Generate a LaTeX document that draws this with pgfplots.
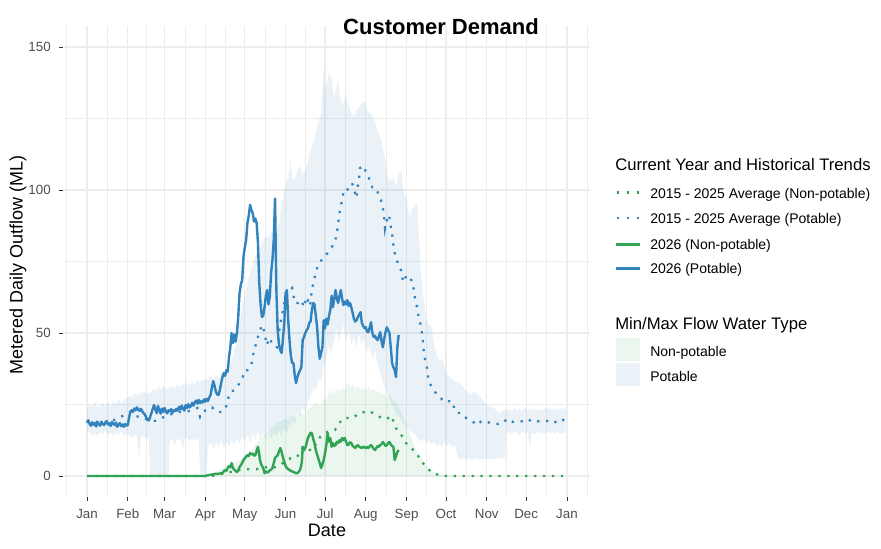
\documentclass[border=0pt]{standalone}
\usepackage{pgfplots}
\pgfplotsset{compat=1.18}
\usepackage{pgfplotstable}
\usepgfplotslibrary{fillbetween}
\usepackage{fontspec}
\setmainfont{Liberation Sans}
\definecolor{cblue}{HTML}{3182BD}
\definecolor{cgreen}{HTML}{31A354}
\definecolor{gridc}{HTML}{EDEDED}
\definecolor{tickc}{HTML}{4D4D4D}
\definecolor{tickm}{HTML}{333333}

\pgfplotstableread{
d v
0 18.6
1 19.5
2 18.2
3 17.6
4 18.8
5 17.9
6 18.5
7 17.3
8 18.9
9 18.1
10 17.6
11 19.0
12 18.2
13 17.8
14 18.6
15 19.2
16 18.0
17 18.4
18 17.5
19 18.9
20 18.3
21 17.8
22 18.7
23 17.2
24 17.9
25 18.5
26 17.4
27 18.0
28 17.2
29 18.2
30 17.6
31 17.8
32 20.5
33 22.5
34 23.0
35 22.4
36 23.6
37 23.0
38 24.0
39 23.2
40 22.8
41 23.5
42 22.6
43 22.0
44 21.5
45 20.5
46 19.8
47 19.4
48 20.6
49 22.0
50 23.5
51 24.8
52 23.2
53 22.0
54 24.5
55 23.0
56 21.8
57 23.6
58 22.4
59 23.8
60 22.5
61 21.9
62 23.0
63 22.6
64 23.4
65 22.1
66 23.0
67 22.7
68 23.5
69 22.8
70 24.2
71 23.3
72 24.6
73 23.5
74 22.9
75 24.8
76 23.7
77 25.1
78 24.0
79 24.5
80 25.6
81 24.6
82 25.8
83 26.4
84 25.3
85 26.6
86 25.5
87 26.2
88 25.7
89 26.8
90 26.0
91 27.0
92 26.2
93 27.5
94 28.4
95 31.0
96 33.2
97 31.5
98 29.5
99 28.5
100 28.3
101 30.0
102 32.5
103 34.5
104 36.0
105 35.0
106 37.0
107 36.5
108 41.6
109 45.0
110 50.0
111 46.5
112 49.5
113 47.0
114 50.0
115 55.6
116 64.0
117 67.0
118 68.5
119 76.6
120 80.0
121 82.5
122 88.5
123 91.0
124 94.8
125 93.0
126 92.0
127 89.0
128 90.0
129 88.5
130 81.5
131 67.5
132 60.0
133 55.6
134 56.0
135 59.0
136 63.0
137 65.0
138 60.0
139 62.6
140 71.0
141 75.5
142 82.5
143 97.0
144 65.0
145 51.0
146 46.0
147 44.0
148 43.0
149 48.0
150 53.5
151 64.0
152 65.0
153 54.5
154 47.5
155 42.0
156 39.5
157 39.5
158 35.0
159 32.5
160 34.6
161 36.0
162 37.0
163 38.0
164 47.5
165 48.6
166 50.0
167 51.0
168 51.6
169 53.5
170 54.0
171 58.0
172 60.5
173 60.0
174 56.0
175 52.0
176 45.0
177 41.0
178 43.0
179 45.0
180 54.5
181 51.6
182 55.0
183 53.0
184 56.0
185 58.0
186 63.0
187 59.0
188 62.0
189 65.0
190 62.0
191 60.5
192 63.0
193 65.0
194 62.0
195 59.8
196 61.0
197 60.0
198 61.5
199 59.5
200 60.5
201 59.0
202 57.0
203 55.0
204 54.0
205 54.5
206 55.6
207 56.5
208 57.3
209 53.5
210 52.5
211 51.7
212 52.0
213 50.5
214 50.3
215 52.0
216 53.8
217 50.0
218 48.6
219 49.0
220 48.0
221 47.5
222 49.0
223 50.3
224 47.0
225 45.0
226 48.0
227 50.3
228 52.0
229 51.0
230 50.0
231 45.0
232 39.5
233 38.0
234 37.0
235 34.6
236 45.0
237 49.3
}\bluecur

\pgfplotstableread{
d v
0 0
90 0
92 0.3
95 0.5
97 0.7
100 0.8
103 1.0
104 1.6
105 2.1
106 1.8
107 2.8
108 3.5
109 3.0
110 4.5
111 2.8
112 2.2
113 1.8
114 1.4
115 2.0
116 3.1
117 3.8
118 4.6
119 5.6
120 6.2
121 6.8
122 7.3
123 7.0
124 8.0
125 7.6
126 7.8
127 7.1
128 7.3
129 8.8
130 10.2
131 7.5
131.5 5.6
132.5 4.0
134 2.8
135 1.0
136 1.6
137 1.2
138 1.4
139 2.0
140 2.2
141 2.8
142 4.5
143 6.3
144 6.8
145 7.3
146 8.5
147 9.8
148 8.4
149 6.5
150 4.9
151 3.5
152 2.8
153 2.4
154 2.1
155 1.8
156 1.6
157 1.4
158 1.2
159 1.0
160 1.0
161 1.5
162 2.1
163 3.8
163.5 5.6
164 10.2
165 9.0
166 9.8
167 11.5
168 13.3
169 14.2
170 15.1
171 15.0
172 13.0
173 11.5
174 9.0
175 7.5
176 6.0
177 4.5
178 2.8
179 4.0
180 5.6
181 8.0
182 10.8
183 15.0
184 12.0
185 13.3
186 10.2
187 11.5
188 10.5
189 10.8
190 12.0
191 11.5
192 12.5
193 12.0
194 13.3
195 12.5
196 13.3
197 12.0
198 10.8
199 11.0
200 11.8
201 11.5
202 10.5
203 10.2
204 9.8
205 10.5
206 10.8
207 10.2
208 10.0
209 9.8
210 10.3
211 10.0
212 9.7
213 10.2
214 9.8
215 10.4
216 10.8
217 10.2
218 9.5
219 9.1
220 9.8
221 10.5
222 10.2
223 10.8
224 11.2
225 11.9
226 11.2
227 10.5
228 10.8
229 11.5
230 11.9
231 11.0
232 10.5
233 10.2
234 5.6
235 7.0
236 8.4
237 9.1
}\greencur

\pgfplotstableread{
d v
0 19.0
5 18.6
10 19.2
15 18.8
20 19.5
25 20.6
30 21.5
33 22.4
37 21.0
42 20.3
47 19.6
52 19.3
56 20.0
61 21.3
66 21.8
70 22.4
75 22.4
80 23.0
84 23.8
86 20.6
90 23.0
95 24.0
99 22.4
103 22.4
106 24.5
107 26.6
109 29.4
112 30.0
114 31.0
118 34.0
120 37.0
122 37.0
125 38.8
126 41.6
127.5 44.6
130 48.6
133 52.8
135 50.3
136.5 45.8
139 48.3
141 45.8
144.5 45.0
146.8 52.8
149 58.0
150.5 61.5
152 64.0
156 65.7
158 60.5
160.5 60.5
163 61.5
165 59.0
167 62.6
169.6 59.4
171 65.0
172.6 68.5
175.6 73.8
179.5 76.2
183 78.0
186 80.0
188.6 81.8
190 85.0
191 87.8
191.5 90.6
192.4 93.0
194 96.5
195 99.3
197 99.0
199 101.0
201.5 102.4
203 100.7
204.6 97.2
205.3 99.0
206 101.7
207 104.5
207.6 107.7
210.6 108.4
212 106.3
214.4 104.2
217 101.0
219 101.0
221.3 99.0
223.5 96.5
225 93.7
226 90.6
226.6 86.7
227.4 88.8
229.7 91.3
230.4 88.5
232 85.0
232.7 81.8
233.5 79.0
235 75.9
238 73.0
239.5 71.0
240.3 67.8
243 70.0
245 70.0
247 68.2
248.6 65.0
249.4 62.2
251 59.0
252 56.0
253.8 52.8
254.7 50.0
255.5 46.9
256 44.0
257 40.9
258.6 37.8
259.3 35.0
260.8 32.2
264.6 29.4
267 28.3
269 27.3
271.5 25.9
275.5 26.2
278 26.0
279.5 23.0
281.7 22.0
283.9 22.0
287 20.6
290 19.9
293.7 18.9
296.8 17.8
299.8 19.2
304.4 18.9
306.7 18.5
312.8 18.2
316.6 18.5
318.9 19.9
324 18.9
327 18.9
332.3 19.2
335 19.9
339 18.9
344.5 19.2
349.8 19.2
353.6 19.6
357.4 18.5
362 19.6
364 19.3
}\blueavg

\pgfplotstableread{
d v
0 0
95 0
100 0.5
105 1.0
110 1.5
115 2.0
122.4 2.4
129 2.4
135 3.1
141.3 2.8
146.8 3.8
152 5.6
156.7 6.6
159.7 6.6
164.3 10.2
171 8.8
177.2 13.6
181 15.0
184.8 15.8
188.6 16.1
194 19.9
197.7 20.3
202.3 20.3
206.8 22.0
211.4 22.4
214.4 22.7
217.5 22.0
221.3 21.0
225 20.0
228 20.0
231.9 21.0
233.5 18.2
235.7 16.1
238 15.0
239.5 14.0
242.6 11.5
247 9.6
251 7.7
254 5.2
257 3.8
261.6 1.4
267.7 0.3
273.8 0
364 0
}\greenavg

\pgfplotstableread{
d lo hi
0 14.5 23.5
2 15.5 25.0
4 14.0 24.0
6 15.0 26.0
8 14.2 23.8
10 15.3 24.6
12 14.6 25.5
14 15.8 24.2
16 14.4 25.8
18 15.0 24.5
20 14.1 26.2
22 15.2 25.0
24 14.5 26.8
26 15.6 25.4
28 14.0 26.5
30 15.0 27.0
32 14.4 28.0
34 13.2 27.5
36 14.6 29.0
38 13.5 28.0
40 6.0 29.5
41 13.8 28.6
43 14.2 30.0
45 12.8 28.5
47 13.5 29.2
48 0 29.0
50 0 30.5
52 0 29.6
54 0 31.0
56 0 30.0
58 0 31.5
60 0 30.2
62 0 31.0
63 13.0 30.5
65 12.5 31.6
67 11.0 30.8
69 13.2 32.0
71 12.6 31.2
73 9.5 32.4
74 12.8 31.5
76 13.4 32.6
78 12.0 31.8
80 13.2 33.0
82 12.5 32.0
84 13.0 33.5
85 12.5 32.8
86 0 33.0
88 0 34.0
90 0 33.2
91 0 34.5
92 10.5 33.5
94 12.0 35.0
96 9.5 34.0
98 11.5 35.5
100 10.0 34.2
102 12.5 36.0
104 9.8 35.5
106 11.8 37.0
108 10.5 38.0
110 12.6 40.0
112 11.0 44.0
114 13.0 48.0
116 11.5 54.0
118 13.5 60.0
120 12.0 63.0
122 14.5 68.0
124 11.5 71.0
126 15.0 75.0
128 12.5 77.0
130 16.0 79.0
132 13.0 80.0
134 15.5 82.0
136 12.5 84.0
138 16.0 83.0
140 13.0 85.5
142 15.5 86.0
144 13.5 87.0
146 16.0 88.0
148 14.0 95.0
150 17.0 100.0
152 15.0 103.0
154 18.5 108.0
155 17.0 112.0
156 20.0 104.0
158 18.0 103.5
160 22.0 107.0
162 20.5 108.5
164 24.0 105.5
166 22.0 107.0
168 26.0 110.0
170 28.0 114.0
172 31.0 116.0
174 30.0 120.0
176 34.0 124.0
178 33.0 127.0
180 38.0 143.0
181 40.0 135.0
182 42.0 137.0
184 45.0 141.0
186 43.0 139.0
188 48.0 132.0
190 52.0 137.0
191 46.0 138.0
193 50.0 131.0
195 53.0 130.0
197 47.0 134.0
199 51.0 129.0
201 46.0 127.0
203 49.0 125.5
205 45.0 128.0
207 50.0 129.0
209 46.0 130.5
211 48.0 131.0
213 43.0 128.0
215 46.0 127.0
217 41.0 126.0
219 44.0 124.0
221 39.0 121.0
223 36.0 118.5
225 33.0 115.0
227 30.0 110.0
229 28.0 104.0
231 26.0 103.5
233 24.0 104.5
235 22.0 101.0
237 21.0 105.5
239 19.5 107.0
241 18.0 99.0
243 17.0 97.0
245 16.0 90.5
247 15.5 93.0
249 14.5 94.5
251 13.5 95.5
253 12.5 80.0
254 12.0 70.0
256 13.0 62.0
258 11.5 55.0
260 12.5 53.0
262 11.0 52.0
264 12.0 46.0
266 10.5 42.0
268 11.5 40.5
270 10.0 41.0
272 12.0 38.0
274 10.5 35.0
276 11.5 34.5
278 10.0 33.8
280 11.0 33.0
282 6.0 32.5
284 5.8 32.0
286 6.2 31.0
288 5.6 30.0
290 6.4 29.0
292 5.8 28.5
294 6.0 29.5
296 6.5 29.0
298 5.7 28.0
300 6.1 27.0
302 5.9 26.0
304 6.3 25.0
306 5.8 24.5
308 6.0 24.0
310 6.2 23.5
312 5.9 22.5
314 6.4 22.0
316 6.0 23.0
318 6.3 23.5
319 15.0 22.8
321 15.5 23.5
323 14.5 22.5
325 15.8 23.8
327 15.0 22.6
329 14.2 23.4
331 15.6 22.8
333 14.8 24.0
335 15.4 23.0
337 9.8 23.6
338 15.0 22.7
340 14.6 23.8
342 15.5 22.9
344 14.8 23.5
346 15.2 22.6
348 14.5 24.0
350 15.6 23.2
352 14.9 23.7
354 15.3 22.8
356 14.6 23.5
358 15.5 23.0
360 14.8 23.8
362 15.2 23.2
364 15.0 24.0
}\potband

\pgfplotstableread{
d lo hi
0 0 0
88 0 0
92 0 0.5
96 0 1.2
100 0 2.0
104 0 3.0
108 0 3.8
112 0 4.5
116 0 5.5
120 0 6.5
123 0 8.0
126 0 9.5
129 0 11.5
132 0 13.0
135 0 14.5
138 0 15.5
141 0 17.0
144 0 18.5
147 0 19.0
150 0 20.0
153 0 19.5
156 0 21.0
159 0 20.0
162 0 22.0
165 0 21.5
168 0 23.5
171 0 24.0
174 0 25.5
177 0 24.5
180 0 27.0
182 0 26.5
184 0 29.0
186 0 30.0
188 0 28.5
190 0 30.5
192 0 29.5
194 0 31.0
196 0 30.0
198 0 32.5
200 0 31.5
202 0 32.0
204 0 30.5
206 0 31.5
208 0 30.0
210 0 31.0
212 0 29.5
214 0 31.5
216 0 30.0
218 0 30.5
220 0 29.0
222 0 30.0
224 0 28.5
226 0 29.0
228 0 27.5
230 0 28.0
232 0 27.0
234 0 26.5
236 0 25.0
238 0 23.0
240 0 21.0
242 0 19.0
244 0 16.5
246 0 14.0
248 0 11.5
250 0 9.5
252 0 8.0
254 0 6.5
256 0 5.0
258 0 3.5
261 0 2.5
264 0 1.5
268 0 0.8
272 0 0.3
276 0 0
364 0 0
}\nonband

\begin{document}
\begin{tikzpicture}
\begin{scope}[x=0.75pt,y=0.75pt]
\useasboundingbox (0,0) rectangle (881,549);
\end{scope}
\begin{axis}[
  at={(47.30pt,38.66pt)}, anchor=south west,
  scale only axis, width=394.9pt, height=353.9pt,
  xmin=-18.2, xmax=382.2, ymin=-7.5, ymax=157.5,
  axis line style={draw=none},
  xtick={0,31,59,90,120,151,181,212,243,273,304,334,365},
  xticklabels={Jan,Feb,Mar,Apr,May,Jun,Jul,Aug,Sep,Oct,Nov,Dec,Jan},
  minor xtick={-15.5,15.5,45,74.5,105,135.5,166,196.5,227.5,258,288.5,319,349.5,380.5},
  ytick={0,50,100,150},
  minor ytick={25,75,125},
  grid=both,
  major grid style={draw=gridc, line width=1pt},
  minor grid style={draw=gridc, line width=0.55pt},
  tick align=outside,
  major tick length=2.75pt, minor tick length=0pt,
  major tick style={draw=tickm, line width=0.5pt},
  minor tick style={draw=none},
  xtick pos=left, ytick pos=left,
  ticklabel style={font=\fontsize{10}{12}\selectfont, text=tickc},
  xticklabel style={yshift=-2.5pt},
  yticklabel style={xshift=-3pt},
  /pgf/number format/assume math mode=true,
]
\addplot[name path=pH, draw=none, forget plot] table[x=d, y=hi] {\potband};
\addplot[name path=pL, draw=none, forget plot] table[x=d, y=lo] {\potband};
\addplot[fill=cblue, fill opacity=0.1, draw=none, forget plot] fill between[of=pH and pL];
\addplot[name path=nH, draw=none, forget plot] table[x=d, y=hi] {\nonband};
\addplot[name path=nL, draw=none, forget plot] table[x=d, y=lo] {\nonband};
\addplot[fill=cgreen, fill opacity=0.1, draw=none, forget plot] fill between[of=nH and nL];

\addplot[cgreen, line width=1.7pt, dash pattern=on 1.7pt off 5.0pt] table[x=d, y=v] {\greenavg};
\addplot[cblue, line width=1.7pt, dash pattern=on 1.7pt off 5.0pt] table[x=d, y=v] {\blueavg};
\addplot[cgreen, line width=1.8pt, line join=round] table[x=d, y=v] {\greencur};
\addplot[cblue, line width=1.8pt, line join=round] table[x=d, y=v] {\bluecur};
\end{axis}
\begin{scope}[x=0.75pt,y=0.75pt]
\node[font=\fontsize{16.5}{20}\selectfont\bfseries] at (441,{549-27}) {Customer Demand};
\node[font=\fontsize{13.5}{16}\selectfont] at (327,{549-530}) {Date};
\node[font=\fontsize{13.5}{16}\selectfont, rotate=90] at (18,{549-265}) {Metered Daily Outflow (ML)};
\node[font=\fontsize{12.5}{15}\selectfont, anchor=base west, inner sep=0pt] at (615,{549-171}) {Current Year and Historical Trends};
\draw[cgreen, line width=1.7pt, dash pattern=on 1.7pt off 5.8pt] (616.5,{549-192.5}) -- (640,{549-192.5});
\draw[cblue, line width=1.7pt, dash pattern=on 1.7pt off 5.8pt] (616.5,{549-218}) -- (640,{549-218});
\draw[cgreen, line width=1.8pt] (616,{549-244.5}) -- (640,{549-244.5});
\draw[cblue, line width=1.8pt] (616,{549-268.5}) -- (640,{549-268.5});
\node[font=\fontsize{10.5}{12}\selectfont, anchor=base west, inner sep=0pt] at (650,{549-198.5}) {2015 - 2025 Average (Non-potable)};
\node[font=\fontsize{10.5}{12}\selectfont, anchor=base west, inner sep=0pt] at (650,{549-224}) {2015 - 2025 Average (Potable)};
\node[font=\fontsize{10.5}{12}\selectfont, anchor=base west, inner sep=0pt] at (650,{549-249.5}) {2026 (Non-potable)};
\node[font=\fontsize{10.5}{12}\selectfont, anchor=base west, inner sep=0pt] at (650,{549-274}) {2026 (Potable)};
\node[font=\fontsize{12.5}{15}\selectfont, anchor=base west, inner sep=0pt] at (615,{549-329.5}) {Min/Max Flow Water Type};
\fill[cgreen, opacity=0.1] (616,{549-338}) rectangle (640,{549-361});
\fill[cblue, opacity=0.1] (616,{549-363}) rectangle (640,{549-386});
\node[font=\fontsize{10.5}{12}\selectfont, anchor=base west, inner sep=0pt] at (650,{549-356.5}) {Non-potable};
\node[font=\fontsize{10.5}{12}\selectfont, anchor=base west, inner sep=0pt] at (650,{549-382}) {Potable};
\end{scope}
\end{tikzpicture}
\end{document}
